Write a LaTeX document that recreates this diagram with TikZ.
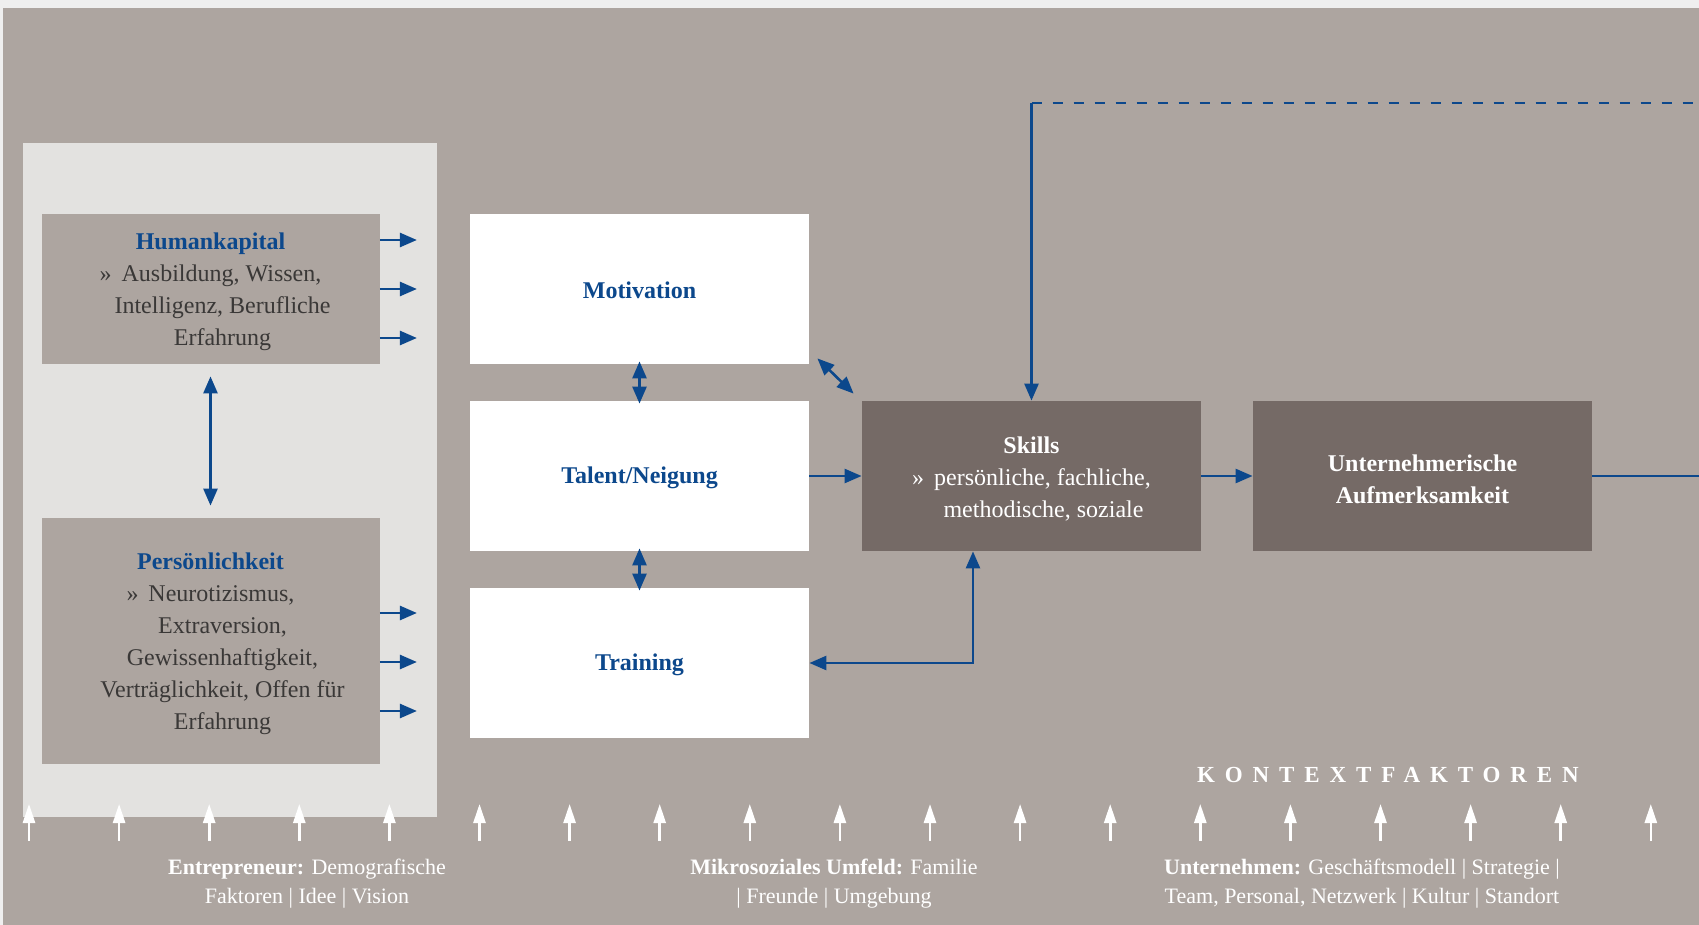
\documentclass[tikz,border=0pt]{standalone}
\usepackage{fontspec}
\setmainfont{Liberation Serif}
\usetikzlibrary{positioning,arrows.meta}
\definecolor{pagegray}{RGB}{239,239,239}
\definecolor{bggray}{RGB}{173,165,160}
\definecolor{panelgray}{RGB}{227,226,224}
\definecolor{boxdark}{RGB}{117,106,102}
\definecolor{linkblue}{RGB}{12,72,140}
\definecolor{textgray}{RGB}{58,56,55}
\newcommand{\topgap}{\rule{0pt}{11.5pt}}

\begin{document}
\begin{tikzpicture}[x=0.5pt,y=-0.5pt,>={Triangle[length=8.5pt,width=7pt]},
    node distance=93.5pt and 196pt,on grid,
    light/.style={fill=bggray,text=textgray,inner sep=0pt,minimum width=169pt,align=center,font=\fontsize{12}{16}\selectfont},
    plain/.style={fill=white,text=linkblue,inner sep=0pt,minimum width=169.5pt,minimum height=75pt,font=\bfseries\fontsize{12}{16}\selectfont,execute at begin node=\rule{0pt}{10pt}},
    dark/.style={fill=boxdark,text=white,inner sep=0pt,minimum width=169.5pt,minimum height=75pt,align=center,font=\fontsize{12}{16}\selectfont},
    link/.style={linkblue,line width=1.3pt},
    ctx/.style={white,line width=1.3pt,-{Triangle[length=9.5pt,width=6pt]}},
    ctxtext/.style={text=white,align=center,font=\fontsize{11}{14.5}\selectfont}]

    \useasboundingbox (0,0) rectangle (1699,925);
    \fill[pagegray] (0,0) rectangle (1699,925);
    \fill[bggray] (3,8) rectangle (1699,925);
    \fill[panelgray] (23,143) rectangle (437,817);

    % person
    \node[light,minimum height=75pt] (hk) at (210.5,289)
      {\topgap\textcolor{linkblue}{\bfseries Humankapital}\\»\hspace{5pt}Ausbildung, Wissen,\\\hspace*{12pt}Intelligenz, Berufliche\\\hspace*{12pt}Erfahrung};
    \node[light,minimum height=123pt] (pk) [below=176pt of hk]
      {\topgap\textcolor{linkblue}{\bfseries Persönlichkeit}\\»\hspace{5pt}Neurotizismus,\\\hspace*{12pt}Extraversion,\\\hspace*{12pt}Gewissenhaftigkeit,\\\hspace*{12pt}Verträglichkeit, Offen für\\\hspace*{12pt}Erfahrung};

    % middle column
    \node[plain] (motiv) at (639.5,289) {Motivation};
    \node[plain] (talent) [below=of motiv] {Talent/Neigung};
    \node[plain] (train) [below=of talent] {Training};

    \node[dark] (skills) [right=of talent]
      {\topgap{\bfseries Skills}\\»\hspace{5pt}persönliche, fachliche,\\\hspace*{12pt}methodische, soziale};
    \node[dark,font=\bfseries\fontsize{12}{16}\selectfont] (aufm) [right=195.5pt of skills]
      {\topgap Unternehmerische\\Aufmerksamkeit};

    \coordinate (fb) at (1031.5,103);
    \coordinate (fbend) at (1699,103);
    \coordinate (out) at (1699,476);

    \foreach \dy in {24.5,0,-24.5}
      \draw[link,->] ([yshift=\dy pt]hk.east) -- ++(37,0);
    \foreach \dy in {14,-10.5,-35}
      \draw[link,->] ([yshift=\dy pt]pk.east) -- ++(37,0);

    \draw[link,<->,shorten <=6pt,shorten >=6pt] (hk) -- (pk);
    \draw[link,<->,shorten <=-1.5pt,shorten >=-1.5pt] (motiv) -- (talent);
    \draw[link,<->,shorten <=-1.5pt,shorten >=-1.5pt] (talent) -- (train);
    \draw[link,<->] ([shift={(8,-6)}]motiv.south east) -- ([shift={(-8,-7)}]skills.north west);
    \draw[link,->] (talent) -- (skills);
    \draw[link,->] (skills) -- (aufm);
    \draw[link] (aufm) -- (out);
    \draw[link,<->] (train.east) -| ([xshift=-29.25pt]skills.south);
    \draw[link,->] (fb) -- (skills.north);
    \draw[link,dash pattern=on 5pt off 5.5pt] (fb) -- (fbend);

    % context
    \foreach \i in {0,...,18}
      \draw[ctx] (29+90.1*\i,841) -- (29+90.1*\i,804);

    \node[text=white,anchor=west,font=\bfseries\fontsize{11.5}{14}\selectfont\addfontfeature{LetterSpace=43}] (ctxtitle) at (1190,775) {KONTEXTFAKTOREN};
    \node[ctxtext] (entr) at (307,884) {\textbf{Entrepreneur:} Demografische\\Faktoren | Idee | Vision};
    \node[ctxtext] (umf) at (834,884) {\textbf{Mikrosoziales Umfeld:} Familie\\| Freunde | Umgebung};
    \node[ctxtext] (unt) at (1362,884) {\textbf{Unternehmen:} Geschäftsmodell | Strategie |\\Team, Personal, Netzwerk | Kultur | Standort};
\end{tikzpicture}
\end{document}
